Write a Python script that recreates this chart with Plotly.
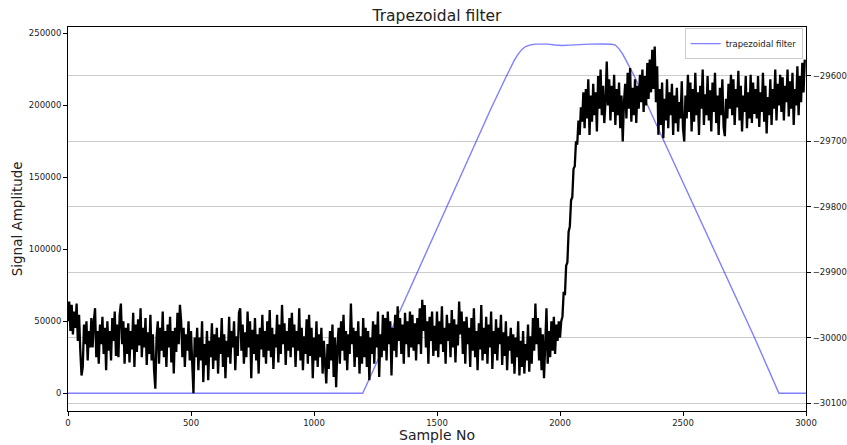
import plotly.graph_objects as go

# ---------------- data ----------------
trap_samples = [0, 1198, 1250, 1300, 1350, 1420, 1480, 1540, 1600, 1660, 1720, 1780, 1800, 1815,
                1830, 1845, 1860, 1880, 1900, 1950, 1980, 2010, 2040, 2080, 2120, 2170, 2210,
                2225, 2240, 2255, 2275, 2300, 2420, 2540, 2670, 2790, 2890, 3000]
trap_values = [0, 0, 19500, 38500, 57900, 84000, 106500, 129800, 152500, 175000, 198000, 219500,
               226500, 231500, 235500, 238800, 240800, 242000, 242500, 242500, 241900, 241500,
               241800, 242300, 242500, 242600, 242400, 241800, 239200, 235500, 229500, 221000,
               176100, 131600, 83400, 38900, 0, 0]

raw_step = 5
raw_samples = list(range(0, 3000, raw_step))
raw_signal = [
    # 0-95
    -29975, -29945, -29990, -29950, -29995, -29960, -29985, -29948, -30005, -29965,
    -30020, -30058, -30045, -29980, -30010, -29975, -30035, -29990, -30015, -29970,
    # 100-195
    -30015, -29975, -29955, -30030, -29990, -30040, -29980, -30010, -29968, -30025,
    -29985, -30050, -29975, -30020, -29990, -30035, -29970, -30005, -29960, -30028,
    # 200-295
    -29980, -30030, -29965, -29948, -30010, -29975, -30040, -29985, -30025, -29978,
    -30038, -29990, -30018, -29962, -30045, -29980, -30022, -29972, -30012, -29955,
    # 300-395
    -30030, -29985, -30015, -29970, -30042, -29992, -30025, -29965, -30035, -29995,
    -30050, -30078, -30000, -29975, -30040, -29985, -30020, -29960, -30030, -29990,
    # 400-495
    -30045, -29980, -30015, -29968, -30038, -29990, -30055, -29985, -30022, -29962,
    -30010, -29950, -29975, -30030, -29985, -30045, -29995, -30020, -29975, -30035,
    # 500-595
    -29990, -30040, -30085, -30000, -30030, -29985, -30050, -30000, -30035, -29975,
    -30068, -30010, -30042, -29990, -30065, -30005, -30030, -29978, -30048, -29995,
    # 600-695
    -30035, -29985, -30055, -30000, -30025, -29970, -30045, -29995, -30062, -30005,
    -30030, -29968, -30040, -29990, -30015, -29975, -30050, -29998, -30028, -29962,
    # 700-795
    -29955, -30020, -29980, -30040, -29992, -30030, -29960, -30015, -29975, -30062,
    -29988, -30025, -29970, -30035, -29995, -30055, -29985, -30018, -29965, -30030,
    # 800-895
    -29990, -30040, -29975, -30020, -29958, -30030, -29985, -30048, -29995, -30015,
    -29965, -30038, -29980, -30025, -29950, -30010, -29978, -30042, -29990, -30020,
    # 900-995
    -29970, -30030, -29962, -30015, -29980, -30045, -29990, -30020, -29955, -30035,
    -29985, -30050, -29998, -30025, -29972, -30040, -29965, -30028, -29985, -30062,
    # 1000-1095
    -30000, -30035, -29975, -30045, -29995, -30030, -29985, -30055, -30005, -30040,
    -30070, -30010, -30048, -29990, -30035, -29980, -30060, -30000, -30076, -30015,
    # 1100-1195
    -29985, -30040, -29975, -30020, -29965, -30035, -29990, -30050, -29995, -30025,
    -29948, -30010, -29985, -30045, -29990, -30030, -29975, -30055, -29998, -30040,
    # 1200-1295
    -29970, -30030, -29985, -30045, -29990, -30065, -30000, -30025, -29975, -30040,
    -29980, -30015, -29960, -30060, -29995, -30030, -29965, -30020, -29970, -30035,
    # 1300-1395
    -29960, -30010, -29975, -30058, -29985, -30020, -29965, -30030, -29952, -30005,
    -29970, -30025, -29980, -30040, -29962, -30010, -29975, -30030, -29960, -30015,
    # 1400-1495
    -29965, -30020, -29978, -30035, -29970, -30010, -29955, -30025, -29942, -29990,
    -29950, -30015, -29975, -30040, -29968, -30005, -29960, -30028, -29982, -30020,
    # 1500-1595
    -29960, -30030, -29975, -30010, -29952, -30022, -29985, -30040, -29965, -30005,
    -29978, -30030, -29958, -30015, -29972, -30038, -29980, -30012, -29945, -29995,
    # 1600-1695
    -29960, -30025, -29975, -30040, -29968, -30010, -29985, -30045, -29970, -30020,
    -29955, -30030, -29990, -30050, -29978, -30018, -29950, -30035, -29985, -30025,
    # 1700-1795
    -29968, -30040, -29980, -30015, -29960, -30048, -29990, -30025, -29972, -30035,
    -29985, -30010, -29965, -30042, -29992, -30028, -29975, -30050, -29998, -30020,
    # 1800-1895
    -29985, -30040, -29995, -30055, -30000, -30030, -29975, -30058, -30005, -30045,
    -29990, -30055, -30010, -30035, -29980, -30052, -29998, -30040, -29970, -30020,
    # 1900-1995
    -29948, -30010, -29970, -30035, -29985, -30050, -29995, -30062, -30010, -29955,
    -30040, -29990, -30030, -29975, -30020, -29968, -30025, -29980, -30005, -29975,
    # 2000-2095 (rising edge)
    -30000, -29975, -29968, -29930, -29935, -29890, -29885, -29838, -29830, -29790,
    -29785, -29742, -29738, -29700, -29705, -29668, -29690, -29648, -29670, -29625,
    # 2100-2195
    -29680, -29620, -29665, -29605, -29690, -29630, -29670, -29612, -29660, -29625,
    -29685, -29600, -29650, -29590, -29660, -29615, -29672, -29640, -29578, -29645,
    # 2200-2295
    -29605, -29668, -29615, -29655, -29598, -29675, -29620, -29660, -29610, -29680,
    -29630, -29700, -29640, -29612, -29665, -29595, -29650, -29588, -29670, -29618,
    # 2300-2395
    -29660, -29605, -29672, -29615, -29650, -29598, -29640, -29590, -29655, -29600,
    -29645, -29580, -29635, -29575, -29625, -29560, -29620, -29555, -29640, -29585,
    # 2400-2495
    -29690, -29620, -29675, -29610, -29695, -29635, -29668, -29605, -29680, -29625,
    -29660, -29612, -29690, -29630, -29672, -29618, -29685, -29640, -29665, -29608,
    # 2500-2595
    -29680, -29700, -29630, -29665, -29598, -29655, -29610, -29685, -29620, -29670,
    -29595, -29660, -29625, -29690, -29615, -29650, -29590, -29675, -29628, -29660,
    # 2600-2695
    -29600, -29668, -29622, -29685, -29610, -29655, -29595, -29672, -29630, -29690,
    -29618, -29660, -29605, -29678, -29692, -29635, -29665, -29612, -29650, -29598,
    # 2700-2795
    -29660, -29605, -29675, -29620, -29648, -29592, -29668, -29615, -29685, -29630,
    -29655, -29600, -29680, -29625, -29665, -29598, -29672, -29610, -29658, -29620,
    # 2800-2895
    -29665, -29600, -29678, -29625, -29655, -29595, -29670, -29615, -29688, -29632,
    -29660, -29605, -29675, -29620, -29650, -29590, -29668, -29612, -29645, -29598,
    # 2900-2995
    -29655, -29602, -29668, -29615, -29640, -29590, -29662, -29608, -29650, -29595,
    -29675, -29620, -29645, -29585, -29660, -29600, -29640, -29580, -29625, -29575,
]

x_ticks = [0, 500, 1000, 1500, 2000, 2500, 3000]
left_ticks = [0, 50000, 100000, 150000, 200000, 250000]
right_ticks = [-30100, -30000, -29900, -29800, -29700, -29600]
right_labels = ["\u221230100", "\u221230000", "\u221229900", "\u221229800", "\u221229700", "\u221229600"]

# ---------------- figure ----------------
FONT = "DejaVu Sans"
fig = go.Figure()
fig.add_trace(go.Scatter(
    x=trap_samples, y=trap_values, mode="lines", name="trapezoidal filter",
    line=dict(color="rgba(0,0,255,0.5)", width=1.4), yaxis="y", showlegend=True))
fig.add_trace(go.Scatter(
    x=raw_samples, y=raw_signal, mode="lines", name="signal",
    line=dict(color="black", width=2.3, simplify=False), yaxis="y2", showlegend=False))

tickfont = dict(family=FONT, size=8.5, color="#222222")
fig.update_layout(
    width=847, height=445,
    margin=dict(l=68, r=41, t=27, b=34, autoexpand=False),
    paper_bgcolor="white", plot_bgcolor="white",
    font=dict(family=FONT, color="#222222"),
    title=dict(text="Trapezoidal filter", x=0.5, xref="paper", xanchor="center",
               y=1 - 16 / 445, yref="container", yanchor="middle",
               font=dict(family=FONT, size=15.5, color="#222222")),
    xaxis=dict(range=[0, 3000], tickvals=x_ticks, ticktext=[str(v) for v in x_ticks],
               ticks="outside", ticklen=4, tickwidth=1, tickcolor="black",
               showline=True, mirror=True, linecolor="black", linewidth=1,
               showgrid=False, zeroline=False, tickfont=tickfont),
    yaxis=dict(range=[-12290, 254375], tickvals=left_ticks, ticktext=[str(v) for v in left_ticks],
               ticks="outside", ticklen=4, tickwidth=1, tickcolor="black",
               showline=True, linecolor="black", linewidth=1,
               showgrid=False, zeroline=False, tickfont=tickfont),
    yaxis2=dict(range=[-30112.2, -29525.1], overlaying="y", side="right",
                tickvals=right_ticks, ticktext=right_labels,
                ticks="outside", ticklen=4, tickwidth=1, tickcolor="black",
                showline=True, linecolor="black", linewidth=1,
                showgrid=True, gridcolor="#cccccc", gridwidth=1,
                zeroline=False, tickfont=tickfont),
    legend=dict(x=0.9955, y=0.997, xanchor="right", yanchor="top",
                bgcolor="rgba(255,255,255,0.8)", bordercolor="#cccccc", borderwidth=1,
                font=dict(family=FONT, size=8.5, color="#222222"), itemwidth=30,
                tracegroupgap=0),
    annotations=[
        dict(text="Signal Amplitude", x=0, xref="paper", y=0.5, yref="paper",
             xanchor="center", yanchor="middle", xshift=-50.7, textangle=-90,
             showarrow=False, font=dict(family=FONT, size=13.5, color="#222222")),
        dict(text="Sample No", x=0.5, xref="paper", y=0, yref="paper",
             xanchor="center", yanchor="middle", yshift=-24,
             showarrow=False, font=dict(family=FONT, size=14, color="#222222")),
    ],
)

fig.write_html("out.html", config={"displayModeBar": False},
               post_script="document.body.style.margin='0';document.body.style.padding='0';")
